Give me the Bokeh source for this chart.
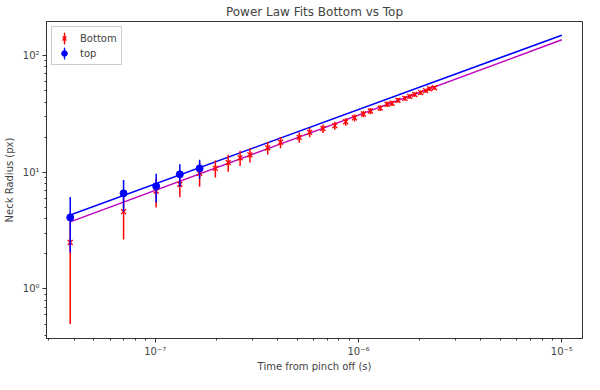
from bokeh.plotting import figure
from bokeh.models import (ColumnDataSource, CustomJSTickFormatter, LogTicker,
                          Legend, LegendItem, Range1d)
from bokeh.embed import file_html
from bokeh.resources import INLINE

# ---- data ----
bottom_t = [3.82e-8, 6.99e-8, 1.011e-7, 1.322e-7, 1.654e-7, 1.977e-7, 2.286e-7,
            2.616e-7, 2.924e-7, 3.575e-7, 4.134e-7, 5.113e-7, 5.75e-7, 6.69e-7,
            7.65e-7, 8.65e-7, 9.56e-7, 1.057e-6, 1.144e-6, 1.279e-6, 1.383e-6,
            1.462e-6, 1.563e-6, 1.691e-6, 1.788e-6, 1.891e-6, 2.022e-6,
            2.138e-6, 2.236e-6, 2.364e-6]
bottom_r = [2.5, 4.6, 6.9, 7.9, 9.8, 10.8, 12.1, 13.3, 14.1, 16.2, 18.1, 19.9,
            22.0, 23.7, 25.1, 27.1, 29.3, 31.6, 33.5, 35.5, 38.3, 39.0, 41.4,
            43.0, 44.7, 46.4, 48.2, 50.1, 52.0, 53.0]
bottom_err = [2.0, 1.95, 1.9, 1.8, 2.3, 1.8, 2.0, 2.0, 2.0, 2.0, 2.0, 2.0,
              2.0, 2.0, 2.0, 2.0, 2.0, 2.0, 2.0, 2.0, 2.0, 2.0, 2.0,
              2.0, 2.0, 2.0, 2.0, 2.0, 2.0, 2.0]

top_t = [3.82e-8, 6.99e-8, 1.011e-7, 1.322e-7, 1.654e-7]
top_r = [4.1, 6.6, 7.6, 9.6, 10.8]
top_err = [2.05, 2.0, 2.1, 2.1, 2.0]

fit_t = [3.82e-8, 1.0e-5]
top_fit_r = [4.3, 149.6]
bottom_fit_r = [3.76, 136.7]

title = "Power Law Fits Bottom vs Top"
x_label = "Time from pinch off (s)"
y_label = "Neck Radius (px)"

RED = "#ff0000"
BLUE = "#0000ff"
MAGENTA = "#bf00bf"

p = figure(width=584, height=374, x_axis_type="log", y_axis_type="log",
           x_range=Range1d(2.92e-8, 1.264e-5), y_range=Range1d(0.376, 196),
           output_backend="svg", toolbar_location=None, title=title,
           min_border_left=10, min_border_right=2, min_border_top=2,
           min_border_bottom=0)

p.title.align = "center"
p.title.text_font = "DejaVu Sans"
p.title.text_font_size = "12px"
p.title.text_font_style = "normal"
p.title.standoff = 5

p.xgrid.visible = False
p.ygrid.visible = False
p.outline_line_color = "#333333"
p.outline_line_alpha = 1.0

fmt = CustomJSTickFormatter(code="""
const sup = {'-':'\u207b','0':'\u2070','1':'\u00b9','2':'\u00b2','3':'\u00b3',
             '4':'\u2074','5':'\u2075','6':'\u2076','7':'\u2077','8':'\u2078','9':'\u2079'};
const e = Math.round(Math.log10(tick));
return '10' + String(e).split('').map(c => sup[c]).join('');
""")

for ax in (p.xaxis[0], p.yaxis[0]):
    ax.formatter = fmt
    ax.ticker = LogTicker(num_minor_ticks=10)
    ax.major_tick_in = 0
    ax.major_tick_out = 4
    ax.minor_tick_in = 0
    ax.minor_tick_out = 2
    ax.major_label_text_font = "DejaVu Sans"
    ax.major_label_text_font_size = "10px"
    ax.axis_label_text_font = "DejaVu Sans"
    ax.axis_label_text_font_size = "10px"
    ax.axis_label_text_font_style = "normal"
    ax.axis_line_color = "#333333"
    ax.major_tick_line_color = "#333333"
    ax.minor_tick_line_color = "#333333"

p.xaxis.major_label_standoff = 3
p.xaxis.axis_label_standoff = 1
p.yaxis.major_label_standoff = 3
p.yaxis.axis_label_standoff = 5

p.xaxis.axis_label = x_label
p.yaxis.axis_label = y_label

# ---- fit lines ----
p.line(fit_t, top_fit_r, line_color=BLUE, line_width=1.5)
p.line(fit_t, bottom_fit_r, line_color=MAGENTA, line_width=1.5)

# ---- bottom series ----
bsrc = ColumnDataSource(dict(
    t=bottom_t, r=bottom_r,
    lo=[r - e for r, e in zip(bottom_r, bottom_err)],
    hi=[r + e for r, e in zip(bottom_r, bottom_err)]))
p.segment(x0="t", x1="t", y0="lo", y1="hi", source=bsrc,
          line_color=RED, line_width=1.5)
# very thin, tall ellipse: only its aspect ratio matters, it draws the
# vertical error-bar stroke in the legend
b_bar = p.ellipse("t", "r", source=bsrc, width=0.01, height=1,
                  width_units="screen", height_units="screen",
                  fill_alpha=0, line_color=RED, line_width=1.5)
b_pts = p.scatter("t", "r", source=bsrc, marker="x", size=7,
                  line_color=RED, line_width=1.3)

# ---- top series ----
tsrc = ColumnDataSource(dict(
    t=top_t, r=top_r,
    lo=[r - e for r, e in zip(top_r, top_err)],
    hi=[r + e for r, e in zip(top_r, top_err)]))
p.segment(x0="t", x1="t", y0="lo", y1="hi", source=tsrc,
          line_color=BLUE, line_width=1.5)
t_bar = p.ellipse("t", "r", source=tsrc, width=0.01, height=1,
                  width_units="screen", height_units="screen",
                  fill_alpha=0, line_color=BLUE, line_width=1.5)
t_pts = p.scatter("t", "r", source=tsrc, marker="circle", size=7,
                  fill_color=BLUE, line_color=BLUE)

legend = Legend(items=[LegendItem(label="Bottom", renderers=[b_bar, b_pts]),
                       LegendItem(label="top", renderers=[t_bar, t_pts])],
                location="top_left")
legend.label_text_font = "DejaVu Sans"
legend.label_text_font_size = "10px"
legend.glyph_width = 16
legend.glyph_height = 14
legend.label_height = 14
legend.label_standoff = 8
legend.spacing = 1
legend.padding = 4
legend.margin = 5
legend.border_line_color = "#cccccc"
legend.border_line_alpha = 1.0
p.add_layout(legend)

open("out.html", "w").write(file_html(p, INLINE))
